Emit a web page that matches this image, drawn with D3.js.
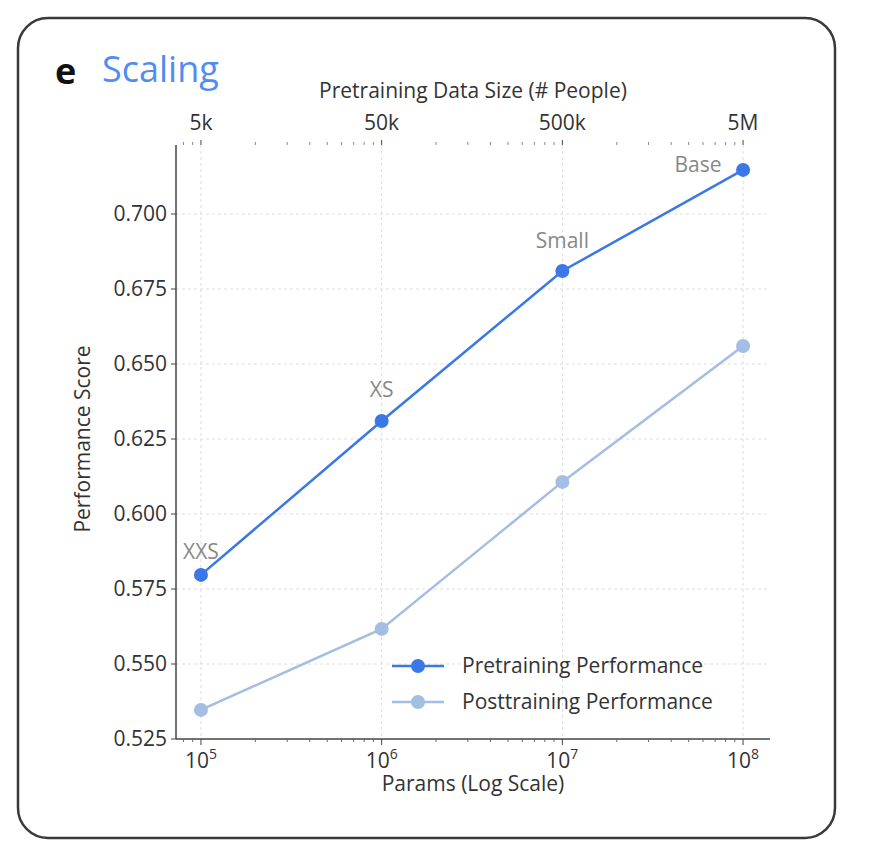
<!DOCTYPE html>
<html><head><meta charset="utf-8">
<script src="https://cdn.jsdelivr.net/npm/d3@7"></script>
<style>body{margin:0;background:#fff}text{font-family:"Open Sans","Noto Sans",sans-serif}</style>
</head><body>
<svg id="c" width="878" height="864"></svg>
<script>
const params = [1e5, 1e6, 1e7, 1e8];
const sizeLabels = ["XXS", "XS", "Small", "Base"];
const topTickLabels = ["5k", "50k", "500k", "5M"];
const pretraining = [0.5797, 0.631, 0.681, 0.7147];
const posttraining = [0.5347, 0.5617, 0.6107, 0.656];
const yTicks = [0.525, 0.550, 0.575, 0.600, 0.625, 0.650, 0.675, 0.700];

const FS=21;
const svg = d3.select("#c");
svg.append("rect").attr("x",18).attr("y",18).attr("width",817).attr("height",820)
  .attr("rx",30).attr("fill","#fff").attr("stroke","#3a3a3a").attr("stroke-width",2.5);
svg.append("text").attr("x",55).attr("y",84).attr("font-size",36).attr("font-weight","bold").attr("fill","#111").text("e");
svg.append("text").attr("x",102).attr("y",82).attr("font-size",36).attr("fill","#4f8ef0").text("Scaling");

const L=176,R=770,T=145,B=739;
const x = d3.scaleLog().domain([Math.pow(10,4.862), Math.pow(10,8.149)]).range([L,R]);
const y = d3.scaleLinear().domain([0.525, 0.525+594/75*0.025]).range([B,T]);
const g = svg.append("g");
g.selectAll(".gx").data(params).join("line").attr("x1",d=>x(d)).attr("x2",d=>x(d)).attr("y1",T).attr("y2",B)
  .attr("stroke","#ddd").attr("stroke-dasharray","3,3");
g.selectAll(".gy").data(yTicks.slice(1)).join("line").attr("x1",L).attr("x2",R).attr("y1",d=>y(d)).attr("y2",d=>y(d))
  .attr("stroke","#ddd").attr("stroke-dasharray","3,3");
const minor=[];
for(let e=4;e<=8;e++)for(let m=2;m<=9;m++){const v=m*Math.pow(10,e); if(x(v)>=L&&x(v)<=R)minor.push(v);}
const bx = g.append("g").attr("transform",`translate(0,${B})`);
bx.append("line").attr("x1",L).attr("x2",R).attr("stroke","#444").attr("stroke-width",1.5);
bx.selectAll(".mi").data(minor).join("line").attr("x1",d=>x(d)).attr("x2",d=>x(d)).attr("y2",3).attr("stroke","#666");
bx.selectAll(".ma").data(params).join("line").attr("x1",d=>x(d)).attr("x2",d=>x(d)).attr("y2",6).attr("stroke","#444");
const bl = bx.selectAll(".lb").data(params).join("text").attr("x",d=>x(d)).attr("y",29).attr("text-anchor","middle").attr("font-size",FS).attr("fill","#333");
bl.append("tspan").text("10");
bl.append("tspan").attr("dy",-9).attr("font-size",14).text(d=>Math.round(Math.log10(d)));
svg.append("text").attr("x",473).attr("y",791).attr("text-anchor","middle").attr("font-size",FS).attr("fill","#333").text("Params (Log Scale)");
const tx = g.append("g").attr("transform",`translate(0,${T})`);
tx.selectAll(".mi").data(minor).join("line").attr("x1",d=>x(d)).attr("x2",d=>x(d)).attr("y1",-3).attr("stroke","#888");
tx.selectAll(".ma").data(params).join("line").attr("x1",d=>x(d)).attr("x2",d=>x(d)).attr("y1",-5).attr("stroke","#444");
tx.selectAll(".lb").data(params).join("text").attr("x",d=>x(d)).attr("y",-15).attr("text-anchor","middle").attr("font-size",FS).attr("fill","#333").text((d,i)=>topTickLabels[i]);
svg.append("text").attr("x",473).attr("y",98).attr("text-anchor","middle").attr("font-size",FS).attr("fill","#333").text("Pretraining Data Size (# People)");
const ly = g.append("g").attr("transform",`translate(${L},0)`);
ly.append("line").attr("y1",T).attr("y2",B).attr("stroke","#444").attr("stroke-width",1.5);
ly.selectAll(".t").data(yTicks).join("line").attr("x1",-5).attr("y1",d=>y(d)).attr("y2",d=>y(d)).attr("stroke","#444");
ly.selectAll(".l").data(yTicks).join("text").attr("x",-9).attr("y",d=>y(d)).attr("dy","0.35em").attr("text-anchor","end").attr("font-size",FS).attr("fill","#333").text(d=>d.toFixed(3));
svg.append("text").attr("transform",`translate(90,${(T+B)/2-3}) rotate(-90)`).attr("text-anchor","middle").attr("font-size",FS).attr("fill","#333").text("Performance Score");
const line = d3.line().x((d,i)=>x(params[i])).y(d=>y(d));
const series=[{v:posttraining,c:"#a3bde3"},{v:pretraining,c:"#3b78e7"}];
series.forEach(s=>{
  g.append("path").datum(s.v).attr("d",line).attr("fill","none").attr("stroke",s.c).attr("stroke-width",2.5);
  g.selectAll(null).data(s.v).join("circle").attr("cx",(d,i)=>x(params[i])).attr("cy",d=>y(d)).attr("r",7).attr("fill",s.c);
});
const off=[[0,-16],[0,-24],[0,-23],[-45,2]];
g.selectAll(".sl").data(sizeLabels).join("text").attr("x",(d,i)=>x(params[i])+off[i][0]).attr("y",(d,i)=>y(pretraining[i])+off[i][1])
  .attr("text-anchor","middle").attr("font-size",FS).attr("fill","#888").text(d=>d);
const lg=[{n:"Pretraining Performance",c:"#3b78e7"},{n:"Posttraining Performance",c:"#a3bde3"}];
lg.forEach((d,i)=>{
  const yy=666+i*36;
  svg.append("line").attr("x1",392).attr("x2",444).attr("y1",yy).attr("y2",yy).attr("stroke",d.c).attr("stroke-width",2.5);
  svg.append("circle").attr("cx",418).attr("cy",yy).attr("r",7).attr("fill",d.c);
  svg.append("text").attr("x",462).attr("y",yy).attr("dy","0.35em").attr("font-size",FS).attr("fill","#333").text(d.n);
});
</script>
</body></html>
